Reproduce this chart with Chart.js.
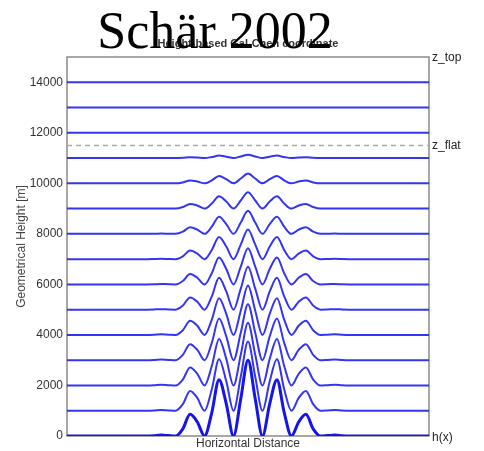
<!DOCTYPE html>
<html>
<head>
<meta charset="utf-8">
<script src="https://cdn.jsdelivr.net/npm/chart.js@4/dist/chart.umd.min.js"></script>
<style>
  html, body { margin: 0; padding: 0; background: #fff; }
  #wrap { width: 484px; height: 451px; }
</style>
</head>
<body>
<div id="wrap"><canvas id="coordChart" width="484" height="451"></canvas></div>
<script>
// horizontal position (km) of the sampled points
var distanceKm = [-25, -14, -13, -12, -11, -10, -9, -8, -7, -6, -5, -4, -3, -2, -1, 0, 1, 2, 3, 4, 5, 6, 7, 8, 9, 10, 11, 12, 13, 14, 25];

// terrain h(x) in m
var terrain = [0, 0, 10, 35, 15, 0, 285, 860, 555, 0, 930, 2230, 1275, 0, 1470, 3000, 1470, 0, 1275, 2230, 930, 0, 555, 860, 285, 0, 15, 35, 10, 0, 0];

// coordinate surfaces (m)
var z1000 = [1000, 1000, 1009, 1032, 1014, 1000, 1260, 1785, 1507, 1000, 1849, 3036, 2164, 1000, 2342, 3739, 2342, 1000, 2164, 3036, 1849, 1000, 1507, 1785, 1260, 1000, 1014, 1032, 1009, 1000, 1000];
var z2000 = [2000, 2000, 2008, 2029, 2012, 2000, 2235, 2710, 2458, 2000, 2768, 3842, 3053, 2000, 3214, 4478, 3214, 2000, 3053, 3842, 2768, 2000, 2458, 2710, 2235, 2000, 2012, 2029, 2008, 2000, 2000];
var z3000 = [3000, 3000, 3007, 3026, 3011, 3000, 3211, 3636, 3410, 3000, 3687, 4648, 3942, 3000, 4086, 5217, 4086, 3000, 3942, 4648, 3687, 3000, 3410, 3636, 3211, 3000, 3011, 3026, 3007, 3000, 3000];
var z4000 = [4000, 4000, 4007, 4023, 4010, 4000, 4186, 4561, 4362, 4000, 4607, 5454, 4832, 4000, 4959, 5957, 4959, 4000, 4832, 5454, 4607, 4000, 4362, 4561, 4186, 4000, 4010, 4023, 4007, 4000, 4000];
var z5000 = [5000, 5000, 5006, 5020, 5008, 5000, 5161, 5486, 5314, 5000, 5526, 6260, 5721, 5000, 5831, 6696, 5831, 5000, 5721, 6260, 5526, 5000, 5314, 5486, 5161, 5000, 5008, 5020, 5006, 5000, 5000];
var z6000 = [6000, 6000, 6005, 6017, 6007, 6000, 6136, 6411, 6265, 6000, 6445, 7067, 6610, 6000, 6703, 7435, 6703, 6000, 6610, 7067, 6445, 6000, 6265, 6411, 6136, 6000, 6007, 6017, 6005, 6000, 6000];
var z7000 = [7000, 7000, 7004, 7014, 7006, 7000, 7112, 7337, 7217, 7000, 7364, 7873, 7499, 7000, 7575, 8174, 7575, 7000, 7499, 7873, 7364, 7000, 7217, 7337, 7112, 7000, 7006, 7014, 7004, 7000, 7000];
var z8000 = [8000, 8000, 8003, 8011, 8005, 8000, 8087, 8262, 8169, 8000, 8283, 8679, 8388, 8000, 8447, 8913, 8447, 8000, 8388, 8679, 8283, 8000, 8169, 8262, 8087, 8000, 8005, 8011, 8003, 8000, 8000];
var z9000 = [9000, 9000, 9002, 9008, 9003, 9000, 9062, 9187, 9121, 9000, 9202, 9485, 9277, 9000, 9320, 9652, 9320, 9000, 9277, 9485, 9202, 9000, 9121, 9187, 9062, 9000, 9003, 9008, 9002, 9000, 9000];
var z10000 = [10000, 10000, 10001, 10005, 10002, 10000, 10037, 10112, 10072, 10000, 10121, 10291, 10166, 10000, 10192, 10391, 10192, 10000, 10166, 10291, 10121, 10000, 10072, 10112, 10037, 10000, 10002, 10005, 10001, 10000, 10000];
var z11000 = [11000, 11000, 11000, 11002, 11001, 11000, 11012, 11037, 11024, 11000, 11040, 11097, 11055, 11000, 11064, 11130, 11064, 11000, 11055, 11097, 11040, 11000, 11024, 11037, 11012, 11000, 11001, 11002, 11000, 11000, 11000];

// flat levels above z_flat
var flatX = [-25, 25];
var flatLevels = [12000, 13000, 14000];
var zFlat = 11500;
var zTop = 15000;

var yTicks = [0, 2000, 4000, 6000, 8000, 10000, 12000, 14000];

function pts(xs, ys) {
    return xs.map(function (x, i) { return { x: x, y: ys[i] }; });
}

var lineBlue = 'rgb(52,52,245)';
var datasets = [];

[z1000, z2000, z3000, z4000, z5000, z6000, z7000, z8000, z9000, z10000, z11000].forEach(function (ys) {
    datasets.push({
        data: pts(distanceKm, ys),
        borderColor: lineBlue,
        borderWidth: 2,
        cubicInterpolationMode: 'monotone'
    });
});

flatLevels.forEach(function (lvl) {
    datasets.push({
        data: pts(flatX, [lvl, lvl]),
        borderColor: lineBlue,
        borderWidth: 2
    });
});

// z_flat
datasets.push({
    data: pts(flatX, [zFlat, zFlat]),
    borderColor: '#aaaaaa',
    borderWidth: 1.5,
    borderDash: [5, 4]
});

// terrain on top
datasets.push({
    data: pts(distanceKm, terrain),
    borderColor: 'rgb(20,20,235)',
    borderWidth: 3,
    cubicInterpolationMode: 'monotone'
});

var decorations = {
    id: 'decorations',
    beforeDatasetsDraw: function (chart) {
        var a = chart.chartArea, ctx = chart.ctx;
        ctx.save();
        ctx.strokeStyle = '#8a8a8a';
        ctx.lineWidth = 1.5;
        ctx.strokeRect(a.left, a.top, a.right - a.left, a.bottom - a.top);
        ctx.restore();
    },
    afterDraw: function (chart) {
        var a = chart.chartArea, ctx = chart.ctx, y = chart.scales.y;
        ctx.save();
        ctx.fillStyle = '#222';
        ctx.font = '12px "Liberation Sans", Arial, sans-serif';
        ctx.textAlign = 'left';
        ctx.textBaseline = 'alphabetic';
        ctx.fillText('z_top', a.right + 3, y.getPixelForValue(zTop) + 4);
        ctx.fillText('z_flat', a.right + 3, y.getPixelForValue(zFlat) + 4);
        ctx.fillText('h(x)', a.right + 3, a.bottom + 5);

        ctx.textAlign = 'center';
        ctx.fillStyle = '#333';
        ctx.font = 'bold 11px "Liberation Sans", Arial, sans-serif';
        ctx.fillText('Height-based Gal-Chen coordinate', 248, 47);

        ctx.fillStyle = '#000';
        ctx.font = '52px "Liberation Serif", "Times New Roman", serif';
        ctx.fillText('Schär 2002', 215, 47.5);
        ctx.restore();
    }
};

var ctx = document.getElementById('coordChart').getContext('2d');
var chart = new Chart(ctx, {
    type: 'line',
    data: { datasets: datasets },
    options: {
        responsive: false,
        animation: false,
        layout: { padding: { top: 57, right: 55, bottom: 0, left: 0 } },
        elements: { point: { radius: 0 } },
        plugins: {
            legend: { display: false },
            tooltip: { enabled: false }
        },
        scales: {
            x: {
                type: 'linear',
                min: -25,
                max: 25,
                grid: { display: false },
                border: { display: false },
                ticks: { display: false },
                title: {
                    display: true,
                    text: 'Horizontal Distance',
                    color: '#333',
                    font: { family: '"Liberation Sans", Arial, sans-serif', size: 12 },
                    padding: { top: 0, bottom: 0 }
                },
                afterFit: function (scale) { scale.height = 15; }
            },
            y: {
                min: 0,
                max: zTop,
                grid: { display: false, drawTicks: false },
                border: { display: false },
                afterBuildTicks: function (scale) {
                    scale.ticks = yTicks.map(function (v) { return { value: v }; });
                },
                ticks: {
                    color: '#333',
                    padding: 4,
                    font: { family: '"Liberation Sans", Arial, sans-serif', size: 12 },
                    callback: function (v) { return String(v); }
                },
                title: {
                    display: true,
                    text: 'Geometrical Height [m]',
                    color: '#444',
                    font: { family: '"Liberation Sans", Arial, sans-serif', size: 12 },
                    padding: { top: 14, bottom: 0 }
                },
                afterFit: function (scale) { scale.width = 67; }
            }
        }
    },
    plugins: [decorations]
});
</script>
</body>
</html>
